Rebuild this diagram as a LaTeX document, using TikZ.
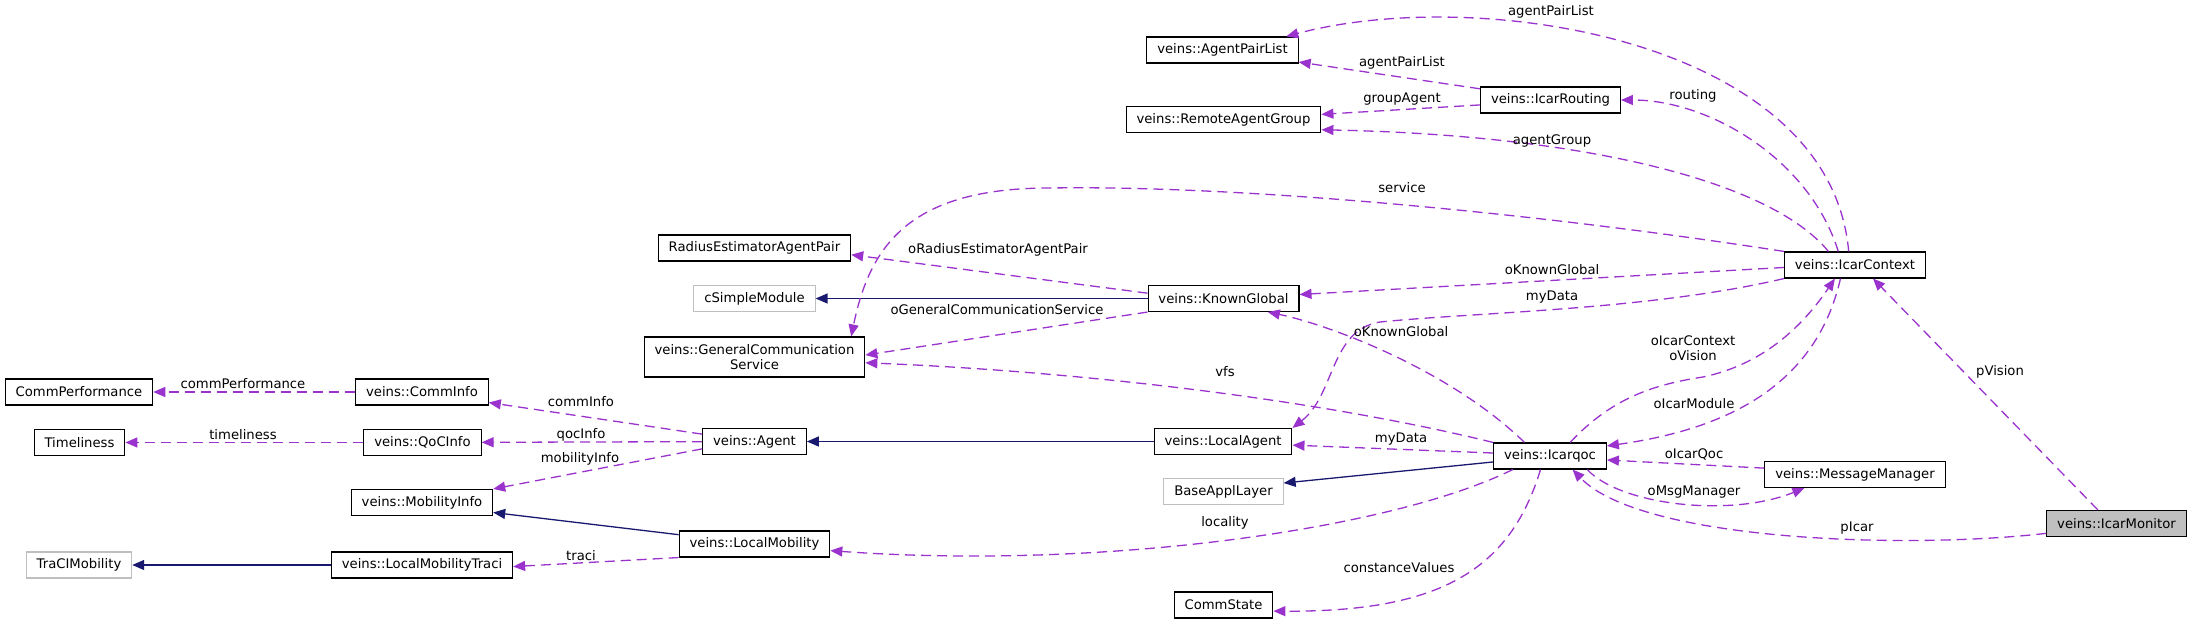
\documentclass[tikz,border=0pt]{standalone}
\usepackage{fontspec}
\setmainfont{DejaVu Sans}
\usepackage{xcolor}
\usetikzlibrary{arrows.meta}

\definecolor{usecol}{HTML}{9A32CD}
\definecolor{inhcol}{HTML}{191970}

\begin{document}
\begin{tikzpicture}[
  x=0.5pt, y=-0.5pt,
  >={Triangle[length=6pt,width=5pt]},
  font=\fontsize{6.6pt}{7.5pt}\selectfont,
  cls/.style={draw=black,line width=0.55pt,fill=white,inner xsep=5.2pt,inner ysep=0pt,minimum height=13pt},
  ext/.style={cls,draw=black!25},
  cur/.style={cls,fill=black!25},
  usage/.style={->,draw=usecol,line width=0.65pt,dash pattern=on 5pt off 3pt},
  inherit/.style={->,draw=inhcol,line width=0.65pt},
  lab/.style={inner sep=0pt}
]
\useasboundingbox (0,0) rectangle (2191,624);

% classes
\node[cls] (apl)    at (1222.5,50)  {veins::AgentPairList};
\node[cls] (rout)   at (1550.5,100) {veins::IcarRouting};
\node[cls] (rag)    at (1223.5,119.5) {veins::RemoteAgentGroup};
\node[cls] (reap)   at (754.5,248)  {RadiusEstimatorAgentPair};
\node[ext] (csm)    at (754.5,298.5) {cSimpleModule};
\node[cls] (kg)     at (1223.5,298.5) {veins::KnownGlobal};
\node[cls] (ctx)    at (1855,265)   {veins::IcarContext};
\node[cls,align=center,minimum height=20pt] (gcs) at (754.5,357) {veins::GeneralCommunication\\Service};
\node[cls] (cperf)  at (79,392)     {CommPerformance};
\node[cls] (cinfo)  at (422,392)    {veins::CommInfo};
\node[cls] (time)   at (79.5,442.5) {Timeliness};
\node[cls] (qoc)    at (422.5,442.5) {veins::QoCInfo};
\node[cls] (agent)  at (754.5,441.5) {veins::Agent};
\node[cls] (lagent) at (1223,441.5) {veins::LocalAgent};
\node[cls] (iq)     at (1550,456)   {veins::Icarqoc};
\node[cls] (msg)    at (1855,474.5) {veins::MessageManager};
\node[cls] (minfo)  at (422,502.5)  {veins::MobilityInfo};
\node[ext] (bal)    at (1223.5,491.5) {BaseApplLayer};
\node[cls] (lmob)   at (754.5,544)  {veins::LocalMobility};
\node[ext] (traci)  at (79,565)     {TraCIMobility};
\node[cls] (lmt)    at (422,565)    {veins::LocalMobilityTraci};
\node[cls] (cstate) at (1223.5,605) {CommState};
\node[cur] (mon)    at (2116.5,523.5) {veins::IcarMonitor};

% inheritance
\draw[inherit] (kg) -- (csm);
\draw[inherit] (iq.186) -- (bal.8);
\draw[inherit] (lagent) -- (agent);
\draw[inherit] (lmob.173) -- (minfo.-8);
\draw[inherit] (lmt) -- (traci);

% usage
\draw[usage] (ctx.115) .. controls (1830,40) and (1480,-15) .. (apl.12);
\draw[usage] (rout.171) -- (apl.-9);
\draw[usage] (rout.184) -- (rag.3);
\draw[usage] (ctx.141) .. controls (1810,160) and (1710,100) .. (rout.east);
\draw[usage] (ctx.153) .. controls (1770,180) and (1580,135) .. (rag.-6);
\draw[usage] (ctx.north west) .. controls (1550,215) and (1250,185) .. (1050,188)
  .. controls (910,188) and (870,245) .. (gcs.12);
\draw[usage] (ctx.182) -- (kg.3);
\draw[usage] (ctx.south west) .. controls (1650,310) and (1480,312) .. (1380,322)
  .. controls (1330,330) and (1335,395) .. (lagent.north east);
\draw[usage] (kg.176) -- (reap.-4);
\draw[usage] (kg.south west) -- (gcs.1);
\draw[usage] (iq.152) .. controls (1450,370) and (1330,325) .. (kg.-17);
\draw[usage] (iq.north west) .. controls (1300,395) and (1050,370) .. (gcs.-3);
\draw[usage] (iq.34) .. controls (1610,400) and (1650,385) .. (1703,377)
  .. controls (1760,365) and (1800,330) .. (ctx.214);
\draw[usage] (ctx.223) .. controls (1815,390) and (1720,430) .. (iq.10);
\draw[usage] (mon.144) -- (ctx.-37);
\draw[usage] (mon.188) .. controls (1900,550) and (1640,540) .. (iq.-31);
\draw[usage] (msg.176) -- (iq.-4);
\draw[usage] (iq.-20) .. controls (1620,505) and (1730,518) .. (msg.195);
\draw[usage] (iq.177) -- (lagent.-3);
\draw[usage] (iq.200) .. controls (1390,530) and (1100,570) .. (lmob.-5);
\draw[usage] (iq.235) .. controls (1510,570) and (1440,612) .. (cstate.-7);
\draw[usage] (agent.172) -- (cinfo.-9);
\draw[usage] (agent) -- (qoc);
\draw[usage] (agent.188) -- (minfo.north east);
\draw[usage] (cinfo) -- (cperf);
\draw[usage] (qoc) -- (time);
\draw[usage] (lmob.south west) -- (lmt.-1);

% edge labels
\node[lab] (l-apl1)   at (1551,12)  {agentPairList};
\node[lab] (l-apl2)   at (1402,63)  {agentPairList};
\node[lab] (l-grp)    at (1402,99)  {groupAgent};
\node[lab] (l-rout)   at (1693,96)  {routing};
\node[lab] (l-agrp)   at (1552,141) {agentGroup};
\node[lab] (l-serv)   at (1402,188) {service};
\node[lab] (l-reap)   at (998,250)  {oRadiusEstimatorAgentPair};
\node[lab] (l-kg1)    at (1552,270) {oKnownGlobal};
\node[lab] (l-gcs)    at (997,310)  {oGeneralCommunicationService};
\node[lab] (l-data1)  at (1552,297) {myData};
\node[lab] (l-kg2)    at (1401,332) {oKnownGlobal};
\node[lab,align=center] (l-ctx) at (1693,348.5) {oIcarContext\\oVision};
\node[lab] (l-vfs)    at (1225,372) {vfs};
\node[lab] (l-mod)    at (1694,404) {oIcarModule};
\node[lab] (l-pvis)   at (2000,372) {pVision};
\node[lab] (l-data2)  at (1401,439) {myData};
\node[lab] (l-qoc)    at (1694,454) {oIcarQoc};
\node[lab] (l-msg)    at (1694,492) {oMsgManager};
\node[lab] (l-loc)    at (1225,523) {locality};
\node[lab] (l-picar)  at (1857,528) {pIcar};
\node[lab] (l-const)  at (1399,568) {constanceValues};
\node[lab] (l-cperf)  at (243,384)  {commPerformance};
\node[lab] (l-time)   at (243,435)  {timeliness};
\node[lab] (l-cinfo)  at (581,402)  {commInfo};
\node[lab] (l-qinfo)  at (581,435)  {qocInfo};
\node[lab] (l-minfo)  at (580,459)  {mobilityInfo};
\node[lab] (l-traci)  at (581,556)  {traci};
\end{tikzpicture}
\end{document}
